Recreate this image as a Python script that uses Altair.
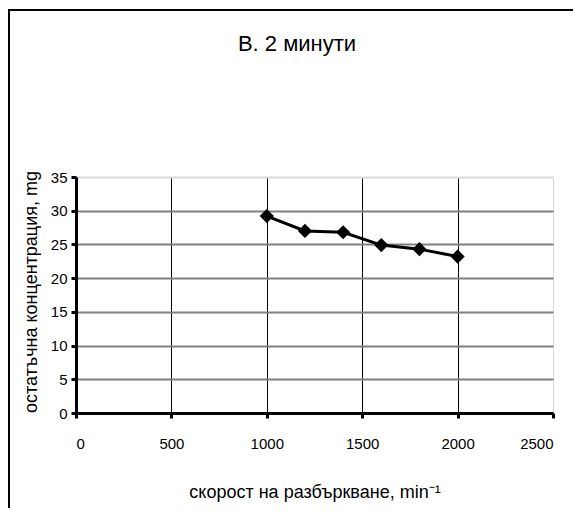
import altair as alt
import pandas as pd

speed = [1000, 1200, 1400, 1600, 1800, 2000]
conc = [29.2, 27.0, 26.8, 24.9, 24.3, 23.2]
x_ticks = [0, 500, 1000, 1500, 2000, 2500]
y_ticks = [0, 5, 10, 15, 20, 25, 30, 35]
title_text = "В. 2 минути"
x_title = "скорост на разбъркване, min⁻¹"
y_title = "остатъчна концентрация, mg"

df = pd.DataFrame({"speed": speed, "conc": conc})
one = pd.DataFrame({"a": [0]})

W, H = 477, 236
LBL = "Liberation Sans"

x_enc = alt.X("speed:Q", scale=alt.Scale(domain=[0, 2500], nice=False),
              axis=alt.Axis(values=x_ticks, title=None, format="d",
                            grid=True, labelOverlap=False,
                            gridColor=alt.condition("datum.value == 2500", alt.value("#d9d9d9"), alt.value("black")),
                            gridWidth=1,
                            domainColor="black", domainWidth=3,
                            tickColor="black", tickWidth=3, tickSize=5,
                            labelFont=LBL, labelFontSize=15, labelColor="black",
                            labelPadding=18))
y_enc = alt.Y("conc:Q", scale=alt.Scale(domain=[0, 35], nice=False),
              axis=alt.Axis(values=y_ticks, title=None,
                            grid=True, labelOverlap=False,
                            gridColor=alt.condition("datum.value == 35", alt.value("#d9d9d9"), alt.value("#808080")),
                            gridWidth=2,
                            domainColor="black", domainWidth=3,
                            tickColor="black", tickWidth=3, tickSize=5,
                            labelFont=LBL, labelFontSize=15, labelColor="black",
                            labelPadding=4))

base = alt.Chart(df).encode(x=x_enc, y=y_enc)
line = base.mark_line(color="black", strokeWidth=3)
pts = base.mark_point(shape="diamond", filled=True, color="black", size=200, opacity=1)

title = alt.Chart(one).mark_text(text=title_text, font="Liberation Sans", fontSize=22,
                                 color="black", align="center", baseline="middle").encode(
    x=alt.value(221), y=alt.value(-133))
xt = alt.Chart(one).mark_text(text=x_title, font="Liberation Sans", fontSize=18,
                              color="black", align="center", baseline="middle").encode(
    x=alt.value(239), y=alt.value(316))
yt = alt.Chart(one).mark_text(text=y_title, font="Liberation Sans", fontSize=18, angle=270,
                              color="black", align="left", baseline="middle").encode(
    x=alt.value(-44), y=alt.value(236))

frame_left = alt.Chart(one).mark_rule(color="black", strokeWidth=2).encode(
    x=alt.value(-67), y=alt.value(-167), y2=alt.value(400))
frame_top = alt.Chart(one).mark_rule(color="black", strokeWidth=2).encode(
    x=alt.value(-68), x2=alt.value(560), y=alt.value(-167))

chart = alt.layer(line, pts, title, xt, yt, frame_left, frame_top).properties(
    width=W, height=H,
    padding={"left": 68, "top": 169, "right": 20, "bottom": 95},
    autosize=alt.AutoSizeParams(type="none"),
).configure_view(stroke="#d9d9d9", strokeWidth=1).configure(background="white")

chart.save("out.html", embed_options={"renderer": "svg", "actions": False})
